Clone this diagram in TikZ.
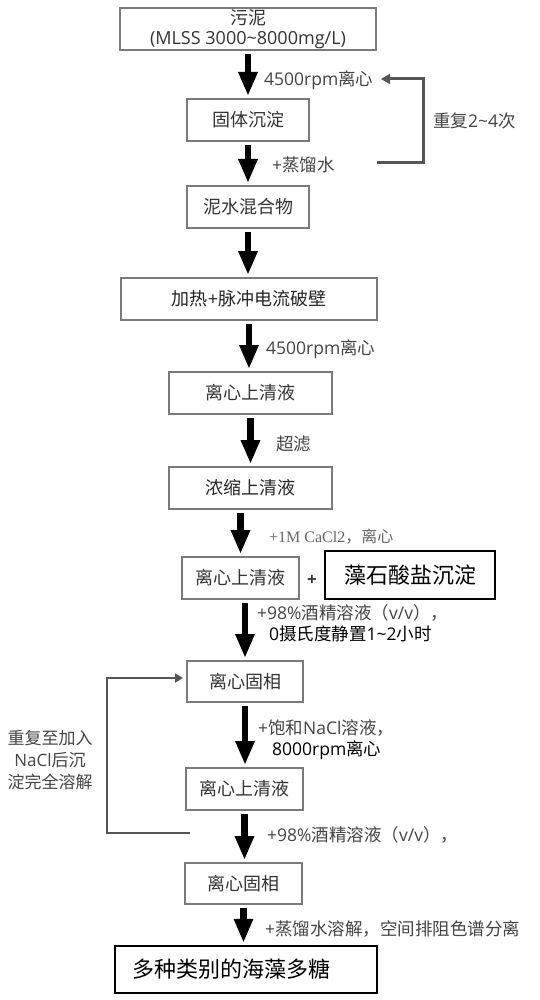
\documentclass[tikz,border=0pt]{standalone}
\usepackage{fontspec}
\setmainfont{Noto Sans CJK SC}
\newfontfamily\lat{Open Sans}
\newfontfamily\serif{Liberation Serif}
\newfontfamily\song{Noto Sans CJK SC}
\usetikzlibrary{arrows.meta}
\definecolor{boxgray}{HTML}{7A7A7A}
\definecolor{txt}{HTML}{333333}
\definecolor{labgray}{HTML}{444444}
\definecolor{loopgray}{HTML}{555555}
\definecolor{softgray}{HTML}{666666}
\begin{document}
\begin{tikzpicture}[x=1pt,y=-1pt,
  box/.style={draw=boxgray, line width=2pt, text=txt, font=\fontsize{18}{20}\selectfont,
    inner sep=0pt, minimum height=42pt, align=center},
  bigbox/.style={draw=black, line width=2.4pt, text=black, font=\song\fontsize{22}{26}\selectfont,
    inner sep=0pt, minimum height=48pt},
  flow/.style={draw=black, line width=6.5pt, -{Triangle[width=18pt,length=24pt]},
    shorten <=3pt, shorten >=2pt},
  loopR/.style={draw=loopgray, line width=3pt, -{Triangle[width=10pt,length=9pt]}},
  loopL/.style={draw=loopgray, line width=2.6pt, -{Triangle[width=9pt,length=8pt]}},
  lab/.style={anchor=west, inner sep=0pt, text=labgray, font=\fontsize{17.5}{21}\selectfont, align=left}
]
\fill[white] (0,0) rectangle (540,1000);
\useasboundingbox (0,0) rectangle (540,1000);

% boxes
\node[box, minimum width=256pt] (b1) at (248,29) {污泥\\{\lat (MLSS 3000\textasciitilde 8000mg/L)}};
\node[box, minimum width=122pt] (b2) at (248,120) {固体沉淀};
\node[box, minimum width=122pt] (b3) at (248,207) {泥水混合物};
\node[box, minimum width=256pt, text=black!85] (b4) at (249,299) {加热{\lat +}脉冲电流破壁};
\node[box, minimum width=163pt] (b5) at (250.5,393) {离心上清液};
\node[box, minimum width=163pt, text=black!85] (b6) at (250.5,488) {浓缩上清液};
\node[box, minimum width=117pt] (b7) at (240.5,578) {离心上清液};
\node[inner sep=0pt, text=txt, font=\lat\bfseries\fontsize{17}{20}\selectfont] (plus) at (312,580) {+};
\node[bigbox, minimum width=170pt] (salt) at (410,575) {藻石酸盐沉淀};
\node[box, minimum width=116pt, minimum height=41pt] (b8) at (245,681.5) {离心固相};
\node[box, minimum width=117pt] (b9) at (244.5,789) {离心上清液};
\node[box, minimum width=117pt, minimum height=41pt] (b10) at (243.5,883.5) {离心固相};
\node[bigbox, minimum height=47pt, text width=228pt, inner xsep=17pt, align=left] (final) at (246,969.5) {多种类别的海藻多糖};

% main flow arrows
\draw[flow] (b1.south) -- (b2.north);
\draw[flow] (b2.south) -- (b3.north);
\draw[flow] (b3.south) -- (b3.south |- b4.north);
\draw[flow] (b4.south) -- (b4.south |- b5.north);
\draw[flow] (b5.south) -- (b6.north);
\draw[flow] (b6.south -| b7.north) -- (b7.north);
\draw[flow] (b7.south -| b8.north) -- (b8.north);
\draw[flow] (b8.south) -- (b8.south |- b9.north);
\draw[flow] (b9.south) -- (b9.south |- b10.north);
\draw[flow] (b10.south) -- (b10.south |- final.north);

% labels
\node[lab] (l1) at (264,80) {{\lat 4500rpm}离心};
\node[lab] (l2) at (272,165) {{\lat +}蒸馏水};
\node[lab] (l3) at (433,121) {重复{\lat 2\textasciitilde 4}次};
\node[lab] (l4) at (266,349) {{\lat 4500rpm}离心};
\node[lab] (l5) at (276,444) {超滤};
\node[lab, text=softgray, font=\fontsize{16}{19}\selectfont] (l6) at (269,537) {{\serif +1M CaCl2}，{\song 离心}};
\node[lab, anchor=north west] (l7) at (257,604) {{\lat +98\%}酒精溶液（{\lat v/v}），\\\hspace*{12pt}{\color{black}{\lat 0}摄氏度静置{\lat 1\textasciitilde 2}小时}};
\node[lab, anchor=north west] (l8) at (258,719) {{\lat +}饱和{\lat NaCl}溶液，\\\hspace*{14pt}{\color{black}{\lat 8000rpm}离心}};
\node[inner sep=0pt, text=labgray, font=\fontsize{17}{22}\selectfont, align=center] (l9) at (50,760) {重复至加入\\{\lat NaCl}后沉\\淀完全溶解};
\node[lab] (l10) at (267,835) {{\lat +98\%}酒精溶液（{\lat v/v}），};
\node[lab] (l11) at (265,929) {{\lat +}蒸馏水溶解，空间排阻色谱分离};

% loops
\coordinate (r1) at (377,163);
\coordinate (r2) at (381,79);
\draw[loopR] (r1) -- ++(46,0) |- (r2);
\coordinate (q1) at (190,833);
\draw[loopL, shorten >=3pt] (q1) -- (107,833) |- ([yshift=3.5pt]b8.west);
\end{tikzpicture}
\end{document}
